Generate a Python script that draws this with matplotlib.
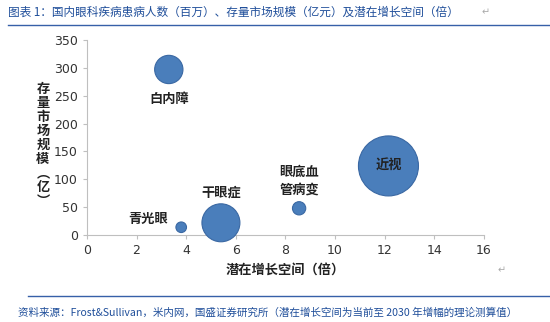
import matplotlib.pyplot as plt

plt.rcParams['font.family'] = ['Noto Sans CJK SC', 'DejaVu Sans']

diseases = ['白内障', '近视', '眼底血\n管病变', '干眼症', '青光眼']
growth = [3.3, 12.15, 8.55, 5.4, 3.8]          # 潜在增长空间（倍）
market = [297, 124, 48, 22, 14]                 # 存量市场规模（亿元）
patients = [100, 450, 22, 180, 14]              # 患病人数（百万）

fig = plt.figure(figsize=(5.5, 3.22), dpi=100)
ax = fig.add_axes([0.158, 0.27, 0.722, 0.606])

sizes = [p * 4.15 for p in patients]
ax.scatter(growth, market, s=sizes, color='#4a7ebb', edgecolor='#3a68a3',
           linewidth=0.8, zorder=3, clip_on=False)

lab = dict(fontsize=9.5, color='#222222', fontweight='bold', zorder=5)
ax.annotate(diseases[0], (growth[0], market[0]), xytext=(0, -21),
            textcoords='offset points', ha='center', va='center', **lab)
ax.annotate(diseases[1], (growth[1], market[1]), xytext=(0, 0),
            textcoords='offset points', ha='center', va='center', **lab)
ax.annotate(diseases[2], (growth[2], market[2]), xytext=(0, 20),
            textcoords='offset points', ha='center', va='center',
            linespacing=1.3, **lab)
ax.annotate(diseases[3], (growth[3], market[3]), xytext=(0, 22),
            textcoords='offset points', ha='center', va='center', **lab)
ax.annotate(diseases[4], (growth[4], market[4]), xytext=(-24, 6),
            textcoords='offset points', ha='center', va='center', **lab)

ax.set_xlim(0, 16)
ax.set_ylim(0, 350)
ax.set_xticks(range(0, 17, 2))
ax.set_yticks(range(0, 351, 50))
for s in ['top', 'right']:
    ax.spines[s].set_visible(False)
for s in ['left', 'bottom']:
    ax.spines[s].set_color('#bfbfbf')
ax.tick_params(colors='#bfbfbf', labelcolor='#333333', labelsize=9,
               length=3, direction='out')
for t in ax.get_xticklabels() + ax.get_yticklabels():
    t.set_family(['DejaVu Sans'])

ax.set_xlabel('潜在增长空间（倍）', fontsize=9.5, fontweight='bold',
              color='#222222', labelpad=4)
fig.text(0.078, 0.55, '存\n量\n市\n场\n规\n模\n︵\n亿\n︶', fontsize=9.5,
         fontweight='bold', color='#222222', ha='center', va='center',
         linespacing=1.0)

# title and source like the report page
fig.text(0.015, 0.962, '图表 1：国内眼科疾病患病人数（百万）、存量市场规模（亿元）及潜在增长空间（倍）',
         fontsize=8.4, color='#1f4e9a', va='center')
fig.text(0.875, 0.962, '↵', fontsize=7, color='#aaaaaa', va='center')
fig.add_artist(plt.Line2D([0.015, 1.0], [0.922, 0.922], color='#3660a8', lw=1.0))
fig.add_artist(plt.Line2D([0.05, 1.0], [0.08, 0.08], color='#3660a8', lw=1.0))
fig.text(0.033, 0.028, '资料来源：Frost&Sullivan，米内网，国盛证券研究所（潜在增长空间为当前至 2030 年增幅的理论测算值）',
         fontsize=7.6, color='#1f4e9a', va='center')
fig.text(0.905, 0.16, '↵', fontsize=7, color='#aaaaaa', va='center')

plt.savefig('out.png', dpi=100)
